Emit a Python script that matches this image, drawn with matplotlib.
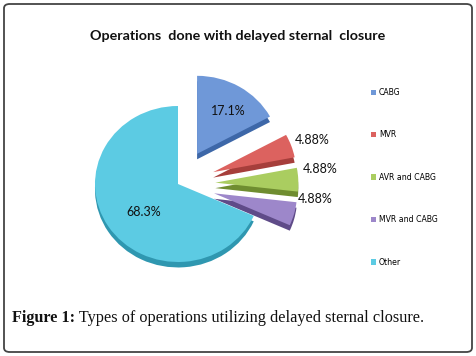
import numpy as np
import matplotlib.pyplot as plt
from matplotlib.patches import FancyBboxPatch

# data
categories = ['CABG', 'MVR', 'AVR and CABG', 'MVR and CABG', 'Other']
counts = [7, 2, 2, 2, 28]
explode = [0.45, 0.45, 0.45, 0.45, 0.0]
top_colors = ['#6f98d8', '#dc625f', '#aacd60', '#9d87ca', '#5ccbe3']
side_colors = ['#3d67a8', '#a63e3b', '#6f8d30', '#5f4b88', '#2f97b0']

W, H = 476, 356
fig = plt.figure(figsize=(W / 100, H / 100), dpi=100)

# outer rounded frame
frame = FancyBboxPatch((4 / W, 4 / H), (W - 8) / W, (H - 8) / H,
                       boxstyle='round,pad=0,rounding_size=0.012',
                       transform=fig.transFigure, facecolor='none',
                       edgecolor='#444444', linewidth=1.3, zorder=5)
fig.patches.append(frame)

fig.text(238 / W, 1 - 36 / H, 'Operations  done with delayed sternal  closure',
         ha='center', va='center', fontsize=10.3, fontweight='bold',
         family='Lato', color='#111111')

# pie axes, stretched a bit to fake the 3D tilt
cx, cy = 178, 184
rx, ry = 83, 78
ax = fig.add_axes([(cx - 1.25 * rx) / W, (H - cy - 1.25 * ry) / H,
                   2.5 * rx / W, 2.5 * ry / H])

# side (depth) of the pie
ax.pie(counts, explode=explode, colors=side_colors, startangle=90,
       counterclock=False, center=(0, -0.07))
wedges, _, autotexts = ax.pie(counts, explode=explode, colors=top_colors,
                              startangle=90, counterclock=False,
                              autopct=lambda p: '%.3g%%' % p,
                              pctdistance=0.62,
                              textprops=dict(fontsize=9, family='Lato',
                                             color='#111111'))
ax.set_aspect('auto')
ax.set_xlim(-1.25, 1.25)
ax.set_ylim(-1.25, 1.25)

# small slices get their labels outside, to the right
total = sum(counts)
for w, t, c in zip(wedges, autotexts, counts):
    if c / total < 0.1:
        mid = np.deg2rad((w.theta1 + w.theta2) / 2)
        x = w.center[0] + 1.05 * np.cos(mid)
        y = w.center[1] + 0.8 * np.sin(mid) + 0.145
        t.set_position((x, y))
        t.set_ha('left')

autotexts[0].set_position((wedges[0].center[0] + 0.38, wedges[0].center[1] + 0.55))
autotexts[-1].set_position((-0.41, -0.36))

fig.legend(wedges, categories, loc='upper left',
           bbox_to_anchor=(364 / W, 1 - 81 / H), frameon=False,
           labelspacing=4.3, handlelength=0.7,
           handleheight=0.7, handletextpad=0.3,
           prop=dict(family='DejaVu Sans', size=5.6))

cap1 = fig.text(12 / W, 1 - 318 / H, 'Figure 1:', ha='left', va='center',
                fontsize=11.7, family='Liberation Serif', fontweight='bold',
                color='#111111')
ax.annotate(' Types of operations utilizing delayed sternal closure.',
            xy=(1, 0.5), xycoords=cap1, ha='left', va='center',
            fontsize=11.7, family='Liberation Serif', color='#111111',
            annotation_clip=False)

plt.savefig('out.png', dpi=100)
